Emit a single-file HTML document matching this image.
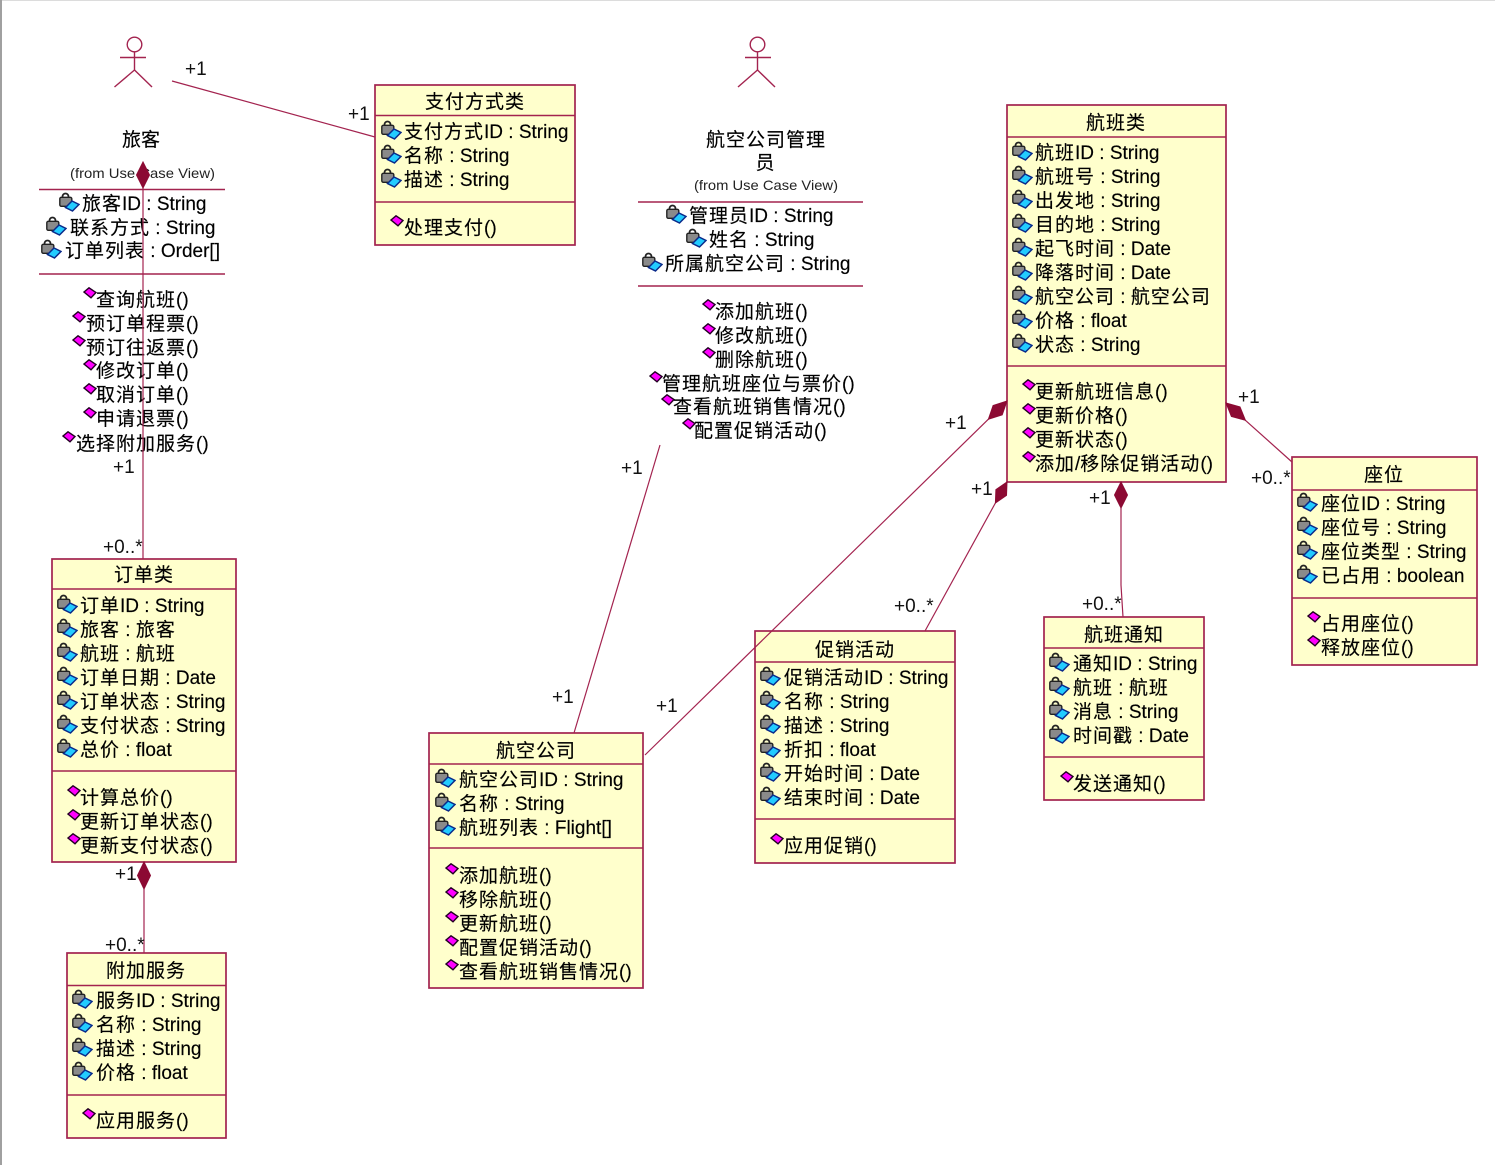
<!DOCTYPE html>
<html><head><meta charset="utf-8">
<style>
html,body{margin:0;padding:0;background:#fff;}
svg{display:block;}
.t{font-family:"Liberation Sans","Noto Sans CJK SC",sans-serif;font-size:19px;fill:#000;stroke:#000;stroke-width:0.15;}
.c{letter-spacing:1px;}
.m{text-anchor:middle;}
.lb{font-family:"Liberation Sans",sans-serif;font-size:19px;fill:#111;}
.fr{font-family:"Liberation Sans",sans-serif;font-size:14px;fill:#222;}
.bx{fill:#ffffcc;stroke:#a3234f;stroke-width:1.7;}
.ln{stroke:#a3234f;stroke-width:1.5;fill:none;}
.cn{stroke:#a3234f;stroke-width:1.2;fill:none;}
.dm{fill:#8c0a33;stroke:#8c0a33;stroke-width:1;}
.ac{stroke:#a3234f;stroke-width:1.4;fill:none;}
</style></head>
<body>
<svg width="1495" height="1165" viewBox="0 0 1495 1165" xmlns="http://www.w3.org/2000/svg">
<defs>
<symbol id="a" viewBox="0 0 21 21" width="21" height="21">
<path d="M3.5,6 V4.5 a3,3 0 0 1 6,0 V6" fill="none" stroke="#222" stroke-width="1.8"/>
<rect x="0.8" y="5.3" width="12" height="9" rx="1.5" fill="#8a8a8a" stroke="#222" stroke-width="1.4"/>
<polygon points="6.5,15.5 13,9 20,12.5 13.5,19" fill="#22ccff" stroke="#0a2a8a" stroke-width="1.5"/>
</symbol>
<symbol id="m" viewBox="0 0 14 13" width="14" height="13">
<polygon points="1,5 6,0.8 13,5.5 8,10.8" fill="#ff00ff" stroke="#220022" stroke-width="1.4"/>
</symbol>
</defs>
<rect x="0" y="0" width="1495" height="1165" fill="#fff"/>
<rect x="0" y="0" width="1495" height="1" fill="#dcdcdc"/>
<rect x="0" y="0" width="2" height="1165" fill="#a0a0a0"/>

<!-- ===== Actor 旅客 ===== -->
<circle cx="134.5" cy="44.5" r="7.3" class="ac"/>
<line x1="134.5" y1="52" x2="134.5" y2="71" class="ac"/>
<line x1="120" y1="57.5" x2="146" y2="57.5" class="ac"/>
<line x1="134.5" y1="70" x2="114.5" y2="87" class="ac"/>
<line x1="134.5" y1="70" x2="152" y2="87" class="ac"/>
<text class="t m" x="141" y="146">旅客</text>
<text class="fr" x="70" y="178" textLength="145" lengthAdjust="spacingAndGlyphs">(from Use Case View)</text>
<line x1="39" y1="189.5" x2="225" y2="189.5" class="ln"/>
<use href="#a" x="59" y="192"/><text class="t" x="82" y="210"><tspan class="c">旅客</tspan>ID : String</text>
<use href="#a" x="46" y="216"/><text class="t" x="70" y="234"><tspan class="c">联系方式</tspan> : String</text>
<use href="#a" x="41" y="239"/><text class="t" x="65" y="257"><tspan class="c">订单列表</tspan> : Order[]</text>
<line x1="39" y1="274" x2="225" y2="274" class="ln"/>
<use href="#m" x="83" y="287"/><text class="t" x="96" y="306"><tspan class="c">查询航班</tspan>()</text>
<use href="#m" x="72" y="311"/><text class="t" x="86" y="330"><tspan class="c">预订单程票</tspan>()</text>
<use href="#m" x="72" y="335"/><text class="t" x="86" y="354"><tspan class="c">预订往返票</tspan>()</text>
<use href="#m" x="83" y="359"/><text class="t" x="96" y="377"><tspan class="c">修改订单</tspan>()</text>
<use href="#m" x="83" y="383"/><text class="t" x="96" y="401"><tspan class="c">取消订单</tspan>()</text>
<use href="#m" x="83" y="407"/><text class="t" x="96" y="425"><tspan class="c">申请退票</tspan>()</text>
<use href="#m" x="62" y="431"/><text class="t" x="76" y="450"><tspan class="c">选择附加服务</tspan>()</text>

<!-- ===== Actor 航空公司管理员 ===== -->
<circle cx="757.5" cy="44.5" r="7.3" class="ac"/>
<line x1="757.5" y1="52" x2="757.5" y2="71" class="ac"/>
<line x1="745" y1="57.5" x2="771" y2="57.5" class="ac"/>
<line x1="757.5" y1="70" x2="738" y2="87" class="ac"/>
<line x1="757.5" y1="70" x2="775" y2="87" class="ac"/>
<text class="t m" x="766" y="146"><tspan class="c">航空公司管理</tspan></text>
<text class="t m" x="765" y="169">员</text>
<text class="fr" x="694" y="190" textLength="144" lengthAdjust="spacingAndGlyphs">(from Use Case View)</text>
<line x1="638" y1="202" x2="863" y2="202" class="ln"/>
<use href="#a" x="666" y="204"/><text class="t" x="689" y="222"><tspan class="c">管理员</tspan>ID : String</text>
<use href="#a" x="686" y="228"/><text class="t" x="709" y="246"><tspan class="c">姓名</tspan> : String</text>
<use href="#a" x="642" y="252"/><text class="t" x="665" y="270"><tspan class="c">所属航空公司</tspan> : String</text>
<line x1="638" y1="286" x2="863" y2="286" class="ln"/>
<use href="#m" x="702" y="299"/><text class="t" x="715" y="318"><tspan class="c">添加航班</tspan>()</text>
<use href="#m" x="702" y="323"/><text class="t" x="715" y="342"><tspan class="c">修改航班</tspan>()</text>
<use href="#m" x="702" y="347"/><text class="t" x="715" y="366"><tspan class="c">删除航班</tspan>()</text>
<use href="#m" x="649" y="371"/><text class="t" x="662" y="390"><tspan class="c">管理航班座位与票价</tspan>()</text>
<use href="#m" x="661" y="394"/><text class="t" x="673" y="413"><tspan class="c">查看航班销售情况</tspan>()</text>
<use href="#m" x="682" y="418"/><text class="t" x="694" y="437"><tspan class="c">配置促销活动</tspan>()</text>

<!-- ===== 支付方式类 ===== -->
<rect x="375" y="85" width="200" height="160" class="bx"/>
<line x1="375" y1="115.5" x2="575" y2="115.5" class="ln"/>
<line x1="375" y1="202" x2="575" y2="202" class="ln"/>
<text class="t m" x="475" y="108"><tspan class="c">支付方式类</tspan></text>
<use href="#a" x="381" y="120"/><text class="t" x="404" y="138"><tspan class="c">支付方式</tspan>ID : String</text>
<use href="#a" x="381" y="144"/><text class="t" x="404" y="162"><tspan class="c">名称</tspan> : String</text>
<use href="#a" x="381" y="168"/><text class="t" x="404" y="186"><tspan class="c">描述</tspan> : String</text>
<use href="#m" x="390" y="215"/><text class="t" x="404" y="234"><tspan class="c">处理支付</tspan>()</text>

<!-- ===== 航班类 ===== -->
<rect x="1007" y="105" width="219" height="377" class="bx"/>
<line x1="1007" y1="137" x2="1226" y2="137" class="ln"/>
<line x1="1007" y1="366" x2="1226" y2="366" class="ln"/>
<text class="t m" x="1116" y="129"><tspan class="c">航班类</tspan></text>
<use href="#a" x="1012" y="141"/><text class="t" x="1035" y="159"><tspan class="c">航班</tspan>ID : String</text>
<use href="#a" x="1012" y="165"/><text class="t" x="1035" y="183"><tspan class="c">航班号</tspan> : String</text>
<use href="#a" x="1012" y="189"/><text class="t" x="1035" y="207"><tspan class="c">出发地</tspan> : String</text>
<use href="#a" x="1012" y="213"/><text class="t" x="1035" y="231"><tspan class="c">目的地</tspan> : String</text>
<use href="#a" x="1012" y="237"/><text class="t" x="1035" y="255"><tspan class="c">起飞时间</tspan> : Date</text>
<use href="#a" x="1012" y="261"/><text class="t" x="1035" y="279"><tspan class="c">降落时间</tspan> : Date</text>
<use href="#a" x="1012" y="285"/><text class="t" x="1035" y="303"><tspan class="c">航空公司</tspan> : <tspan class="c">航空公司</tspan></text>
<use href="#a" x="1012" y="309"/><text class="t" x="1035" y="327"><tspan class="c">价格</tspan> : float</text>
<use href="#a" x="1012" y="333"/><text class="t" x="1035" y="351"><tspan class="c">状态</tspan> : String</text>
<use href="#m" x="1022" y="379"/><text class="t" x="1035" y="398"><tspan class="c">更新航班信息</tspan>()</text>
<use href="#m" x="1022" y="403"/><text class="t" x="1035" y="422"><tspan class="c">更新价格</tspan>()</text>
<use href="#m" x="1022" y="427"/><text class="t" x="1035" y="446"><tspan class="c">更新状态</tspan>()</text>
<use href="#m" x="1022" y="451"/><text class="t" x="1035" y="470"><tspan class="c">添加</tspan>/<tspan class="c">移除促销活动</tspan>()</text>

<!-- ===== 座位 ===== -->
<rect x="1292" y="457" width="185" height="208" class="bx"/>
<line x1="1292" y1="490" x2="1477" y2="490" class="ln"/>
<line x1="1292" y1="598" x2="1477" y2="598" class="ln"/>
<text class="t m" x="1384" y="481"><tspan class="c">座位</tspan></text>
<use href="#a" x="1297" y="492"/><text class="t" x="1321" y="510"><tspan class="c">座位</tspan>ID : String</text>
<use href="#a" x="1297" y="516"/><text class="t" x="1321" y="534"><tspan class="c">座位号</tspan> : String</text>
<use href="#a" x="1297" y="540"/><text class="t" x="1321" y="558"><tspan class="c">座位类型</tspan> : String</text>
<use href="#a" x="1297" y="564"/><text class="t" x="1321" y="582"><tspan class="c">已占用</tspan> : boolean</text>
<use href="#m" x="1307" y="611"/><text class="t" x="1321" y="630"><tspan class="c">占用座位</tspan>()</text>
<use href="#m" x="1307" y="635"/><text class="t" x="1321" y="654"><tspan class="c">释放座位</tspan>()</text>

<!-- ===== 订单类 ===== -->
<rect x="52" y="559" width="184" height="303" class="bx"/>
<line x1="52" y1="589" x2="236" y2="589" class="ln"/>
<line x1="52" y1="771" x2="236" y2="771" class="ln"/>
<text class="t m" x="144" y="581"><tspan class="c">订单类</tspan></text>
<use href="#a" x="57" y="594"/><text class="t" x="80" y="612"><tspan class="c">订单</tspan>ID : String</text>
<use href="#a" x="57" y="618"/><text class="t" x="80" y="636"><tspan class="c">旅客</tspan> : <tspan class="c">旅客</tspan></text>
<use href="#a" x="57" y="642"/><text class="t" x="80" y="660"><tspan class="c">航班</tspan> : <tspan class="c">航班</tspan></text>
<use href="#a" x="57" y="666"/><text class="t" x="80" y="684"><tspan class="c">订单日期</tspan> : Date</text>
<use href="#a" x="57" y="690"/><text class="t" x="80" y="708"><tspan class="c">订单状态</tspan> : String</text>
<use href="#a" x="57" y="714"/><text class="t" x="80" y="732"><tspan class="c">支付状态</tspan> : String</text>
<use href="#a" x="57" y="738"/><text class="t" x="80" y="756"><tspan class="c">总价</tspan> : float</text>
<use href="#m" x="67" y="785"/><text class="t" x="80" y="804"><tspan class="c">计算总价</tspan>()</text>
<use href="#m" x="67" y="809"/><text class="t" x="80" y="828"><tspan class="c">更新订单状态</tspan>()</text>
<use href="#m" x="67" y="833"/><text class="t" x="80" y="852"><tspan class="c">更新支付状态</tspan>()</text>

<!-- ===== 附加服务 ===== -->
<rect x="67" y="953" width="159" height="185" class="bx"/>
<line x1="67" y1="985.5" x2="226" y2="985.5" class="ln"/>
<line x1="67" y1="1095" x2="226" y2="1095" class="ln"/>
<text class="t m" x="146" y="977"><tspan class="c">附加服务</tspan></text>
<use href="#a" x="72" y="989"/><text class="t" x="96" y="1007"><tspan class="c">服务</tspan>ID : String</text>
<use href="#a" x="72" y="1013"/><text class="t" x="96" y="1031"><tspan class="c">名称</tspan> : String</text>
<use href="#a" x="72" y="1037"/><text class="t" x="96" y="1055"><tspan class="c">描述</tspan> : String</text>
<use href="#a" x="72" y="1061"/><text class="t" x="96" y="1079"><tspan class="c">价格</tspan> : float</text>
<use href="#m" x="82" y="1108"/><text class="t" x="96" y="1127"><tspan class="c">应用服务</tspan>()</text>

<!-- ===== 航空公司 ===== -->
<rect x="429" y="733" width="214" height="255" class="bx"/>
<line x1="429" y1="764" x2="643" y2="764" class="ln"/>
<line x1="429" y1="848" x2="643" y2="848" class="ln"/>
<text class="t m" x="536" y="757"><tspan class="c">航空公司</tspan></text>
<use href="#a" x="435" y="768"/><text class="t" x="459" y="786"><tspan class="c">航空公司</tspan>ID : String</text>
<use href="#a" x="435" y="792"/><text class="t" x="459" y="810"><tspan class="c">名称</tspan> : String</text>
<use href="#a" x="435" y="816"/><text class="t" x="459" y="834"><tspan class="c">航班列表</tspan> : Flight[]</text>
<use href="#m" x="445" y="863"/><text class="t" x="459" y="882"><tspan class="c">添加航班</tspan>()</text>
<use href="#m" x="445" y="887"/><text class="t" x="459" y="906"><tspan class="c">移除航班</tspan>()</text>
<use href="#m" x="445" y="911"/><text class="t" x="459" y="930"><tspan class="c">更新航班</tspan>()</text>
<use href="#m" x="445" y="935"/><text class="t" x="459" y="954"><tspan class="c">配置促销活动</tspan>()</text>
<use href="#m" x="445" y="959"/><text class="t" x="459" y="978"><tspan class="c">查看航班销售情况</tspan>()</text>

<!-- ===== 促销活动 ===== -->
<rect x="755" y="631" width="200" height="232" class="bx"/>
<line x1="755" y1="662" x2="955" y2="662" class="ln"/>
<line x1="755" y1="819" x2="955" y2="819" class="ln"/>
<text class="t m" x="855" y="656"><tspan class="c">促销活动</tspan></text>
<use href="#a" x="760" y="666"/><text class="t" x="784" y="684"><tspan class="c">促销活动</tspan>ID : String</text>
<use href="#a" x="760" y="690"/><text class="t" x="784" y="708"><tspan class="c">名称</tspan> : String</text>
<use href="#a" x="760" y="714"/><text class="t" x="784" y="732"><tspan class="c">描述</tspan> : String</text>
<use href="#a" x="760" y="738"/><text class="t" x="784" y="756"><tspan class="c">折扣</tspan> : float</text>
<use href="#a" x="760" y="762"/><text class="t" x="784" y="780"><tspan class="c">开始时间</tspan> : Date</text>
<use href="#a" x="760" y="786"/><text class="t" x="784" y="804"><tspan class="c">结束时间</tspan> : Date</text>
<use href="#m" x="770" y="833"/><text class="t" x="784" y="852"><tspan class="c">应用促销</tspan>()</text>

<!-- ===== 航班通知 ===== -->
<rect x="1044" y="617" width="160" height="183" class="bx"/>
<line x1="1044" y1="648" x2="1204" y2="648" class="ln"/>
<line x1="1044" y1="757" x2="1204" y2="757" class="ln"/>
<text class="t m" x="1124" y="641"><tspan class="c">航班通知</tspan></text>
<use href="#a" x="1049" y="652"/><text class="t" x="1073" y="670"><tspan class="c">通知</tspan>ID : String</text>
<use href="#a" x="1049" y="676"/><text class="t" x="1073" y="694"><tspan class="c">航班</tspan> : <tspan class="c">航班</tspan></text>
<use href="#a" x="1049" y="700"/><text class="t" x="1073" y="718"><tspan class="c">消息</tspan> : String</text>
<use href="#a" x="1049" y="724"/><text class="t" x="1073" y="742"><tspan class="c">时间戳</tspan> : Date</text>
<use href="#m" x="1060" y="771"/><text class="t" x="1073" y="790"><tspan class="c">发送通知</tspan>()</text>

<!-- ===== Connectors ===== -->
<line x1="172" y1="81" x2="375" y2="137" class="cn"/>
<line x1="143" y1="188" x2="143" y2="559" class="cn"/>
<polygon points="143,162 149.5,175 143,188 136.5,175" class="dm"/>
<line x1="144" y1="889" x2="144" y2="953" class="cn"/>
<polygon points="144,862 150.5,875.5 144,889 137.5,875.5" class="dm"/>
<line x1="660" y1="445" x2="574" y2="733" class="cn"/>
<line x1="988.4" y1="419.2" x2="645" y2="755" class="cn"/>
<polygon points="1007,401 1002.2,414.8 988.4,419.2 993.1,405.5" class="dm"/>
<line x1="995.4" y1="503" x2="925" y2="631" class="cn"/>
<polygon points="1007,482 1006.5,495.4 995.4,503 995.9,489.6" class="dm"/>
<polyline points="1121,508 1121,585 1123,617" class="cn"/>
<polygon points="1121,482 1127.5,495 1121,508 1114.5,495" class="dm"/>
<line x1="1245.4" y1="420.3" x2="1292" y2="462" class="cn"/>
<polygon points="1226,403 1231.4,416.5 1245.4,420.3 1240,406.9" class="dm"/>

<!-- ===== Multiplicity labels ===== -->
<text class="lb" x="185" y="75">+1</text>
<text class="lb" x="348" y="120">+1</text>
<text class="lb" x="113" y="473">+1</text>
<text class="lb" x="103" y="553">+0..*</text>
<text class="lb" x="115" y="880">+1</text>
<text class="lb" x="105" y="951">+0..*</text>
<text class="lb" x="621" y="474">+1</text>
<text class="lb" x="552" y="703">+1</text>
<text class="lb" x="656" y="712">+1</text>
<text class="lb" x="945" y="429">+1</text>
<text class="lb" x="971" y="495">+1</text>
<text class="lb" x="894" y="612">+0..*</text>
<text class="lb" x="1089" y="504">+1</text>
<text class="lb" x="1082" y="610">+0..*</text>
<text class="lb" x="1238" y="403">+1</text>
<text class="lb" x="1251" y="484">+0..*</text>
</svg>
</body></html>
